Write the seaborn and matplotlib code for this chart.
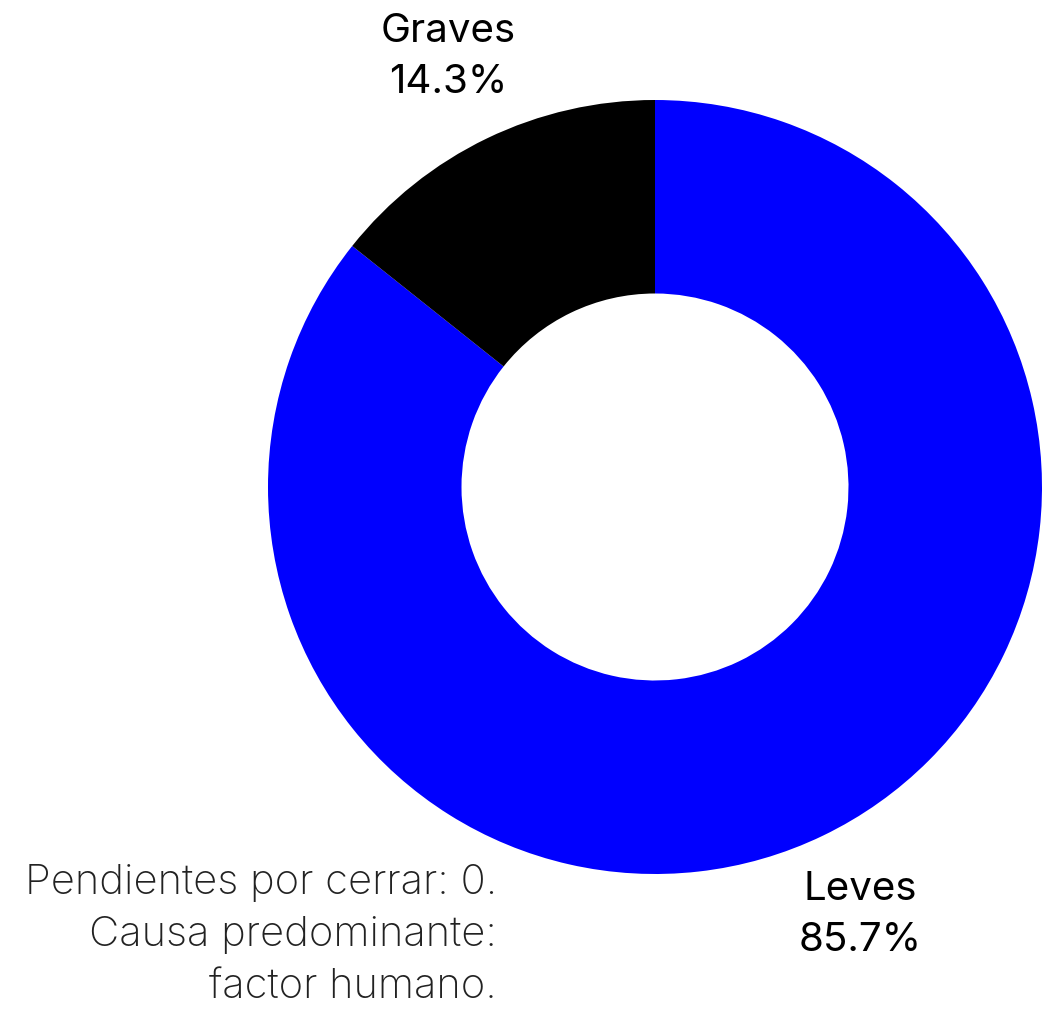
import matplotlib
matplotlib.use("Agg")
import seaborn as sns
from matplotlib import pyplot as plt

# data
categories = ["Leves", "Graves"]
shares = [85.7, 14.3]
colors = ["#0000ff", "#000000"]
note_lines = ["Pendientes por cerrar: 0.", "Causa predominante:", "factor humano."]

sns.set_theme(style="white")
plt.rcParams['font.family'] = ['Inter', 'DejaVu Sans']

W, H = 1042, 1010
fig = plt.figure(figsize=(W / 100, H / 100), dpi=100)
fig.patch.set_facecolor("white")

# donut: centre (655, 487) px, radius 387 px
cx, cy, R = 655, 487, 387
ax = fig.add_axes([(cx - R) / W, (H - cy - R) / H, 2 * R / W, 2 * R / H])
ax.pie(shares, colors=colors, startangle=90, counterclock=False,
       radius=1, wedgeprops=dict(width=0.5, edgecolor="none"))
ax.set_xlim(-1, 1)
ax.set_ylim(-1, 1)
ax.set_aspect("equal")
ax.axis("off")


def px(x, y):
    return x / W, 1 - y / H


label_pos = {"Leves": (860, 915), "Graves": (448, 57)}
for name, val in zip(categories, shares):
    x, y = label_pos[name]
    fig.text(*px(x, y), f"{name}\n{val}%", ha="center", va="center",
             fontsize=29, linespacing=1.5, color="black")

fig.text(*px(497, 935), "\n".join(note_lines), ha="right", va="center",
         fontsize=30, fontweight="light", linespacing=1.48, color="#222222")

fig.savefig("out.png", dpi=100)
